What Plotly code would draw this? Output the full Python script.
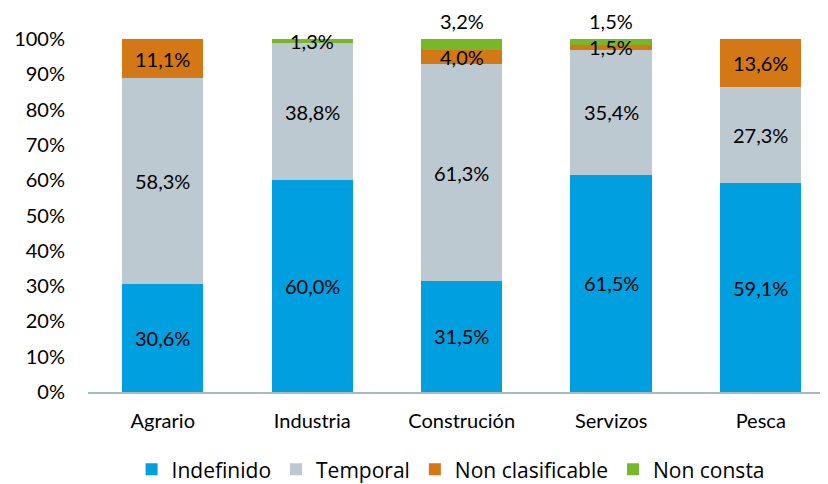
import plotly.graph_objects as go

sectores = ["Agrario", "Industria", "Construción", "Servizos", "Pesca"]
indefinido = [30.6, 60.0, 31.5, 61.5, 59.1]
temporal = [58.3, 38.8, 61.3, 35.4, 27.3]
non_clasificable = [11.1, 0.0, 4.0, 1.5, 13.6]
non_consta = [0.0, 1.3, 3.2, 1.5, 0.0]

# labels of the top segment that sit above the bar instead of inside it
label_above = ["Construción", "Servizos"]

series = [
    ("Indefinido", indefinido, "#009FE0"),
    ("Temporal", temporal, "#BDC9D1"),
    ("Non clasificable", non_clasificable, "#D37815"),
    ("Non consta", non_consta, "#76B82A"),
]

font_family = "Lato, 'Open Sans', sans-serif"
label_font = dict(size=20, color="#000000", family=font_family)

fig = go.Figure()
annotations = []
base = [0.0] * len(sectores)
for name, values, color in series:
    fig.add_trace(go.Bar(
        x=sectores, y=values, name=name,
        marker=dict(color=color, line=dict(width=0)),
        width=0.545,
    ))
    for i, v in enumerate(values):
        if v > 0:
            text = f"{v:.1f}%".replace(".", ",")
            if name == "Non consta" and sectores[i] in label_above:
                # sits just above the top of the stack
                annotations.append(dict(
                    x=sectores[i], y=1.0, yref="paper", yshift=4, text=text,
                    showarrow=False, font=label_font, xanchor="center", yanchor="bottom",
                ))
            else:
                annotations.append(dict(
                    x=sectores[i], y=base[i] + v / 2, text=text,
                    showarrow=False, font=label_font, xanchor="center", yanchor="middle",
                ))
        base[i] += v

# the page body adds an 8px margin, so the figure is drawn 8px smaller
fig.update_layout(
    barmode="stack",
    width=820, height=476,
    margin=dict(l=80, r=0, t=31, b=92),
    paper_bgcolor="white", plot_bgcolor="white",
    font=dict(family=font_family, size=20, color="#000000"),
    annotations=annotations,
    showlegend=True,
    legend=dict(
        orientation="h", x=0.49, xanchor="center",
        yref="container", y=0.03, yanchor="middle",
        font=dict(size=21, family="'Open Sans', sans-serif"), itemwidth=30,
        traceorder="normal",
    ),
    xaxis=dict(
        range=[-0.5, 4.45], showline=True, linecolor="#A9B8C4", linewidth=1.5,
        ticks="", showgrid=False, tickfont=dict(size=20), ticklabelstandoff=10,
    ),
    yaxis=dict(
        range=[0, 100], tickvals=list(range(0, 101, 10)),
        ticktext=[f"{t}%" for t in range(0, 101, 10)],
        showgrid=False, zeroline=False, showline=False, ticks="",
        tickfont=dict(size=20), ticklabelstandoff=22,
    ),
)

fig.write_html("out.html")
